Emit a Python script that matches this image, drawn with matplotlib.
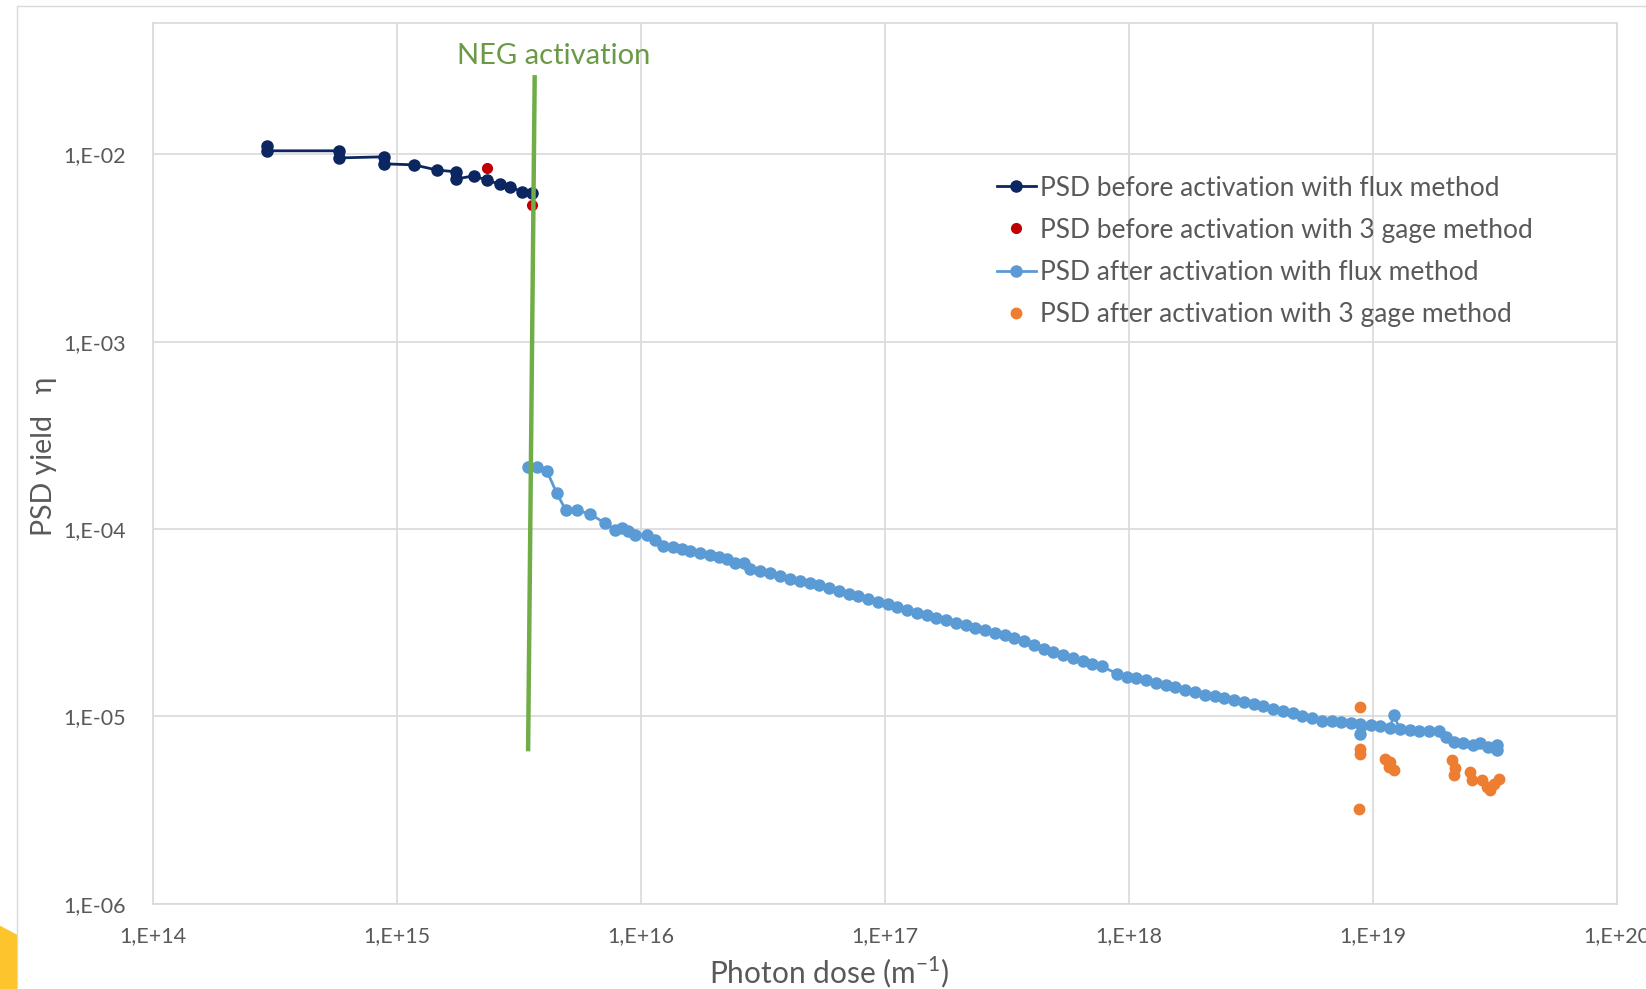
import numpy as np
import matplotlib.pyplot as plt
import matplotlib.patches as patches
from matplotlib.ticker import FixedLocator, FuncFormatter

plt.rcParams['font.family'] = ['Lato', 'DejaVu Sans']
plt.rcParams['mathtext.fontset'] = 'custom'
plt.rcParams['mathtext.rm'] = 'Lato'

# PSD before activation, flux method
dose_before = [2.93e14, 2.93e14, 5.8e14, 5.8e14, 8.8e14, 8.8e14, 1.17e15, 1.46e15,
               1.75e15, 1.75e15, 2.06e15, 2.33e15, 2.63e15, 2.9e15, 3.24e15, 3.56e15]
eta_before = [0.01107, 0.01042, 0.01042, 0.00955, 0.00968, 0.00888, 0.00877, 0.00822,
              0.00805, 0.00738, 0.00766, 0.00726, 0.00692, 0.00670, 0.00632, 0.00617]

# PSD before activation, 3 gage method
dose_before_3g = [2.33e15, 3.56e15]
eta_before_3g = [0.0084, 0.00536]

# PSD after activation, flux method
dose_after = [3.45e15, 3.73e15, 4.10e15, 4.51e15, 4.92e15, 5.44e15, 6.17e15, 7.11e15,
              7.81e15, 8.32e15, 8.87e15, 9.45e15, 1.055e16, 1.14e16, 1.233e16, 1.356e16,
              1.468e16, 1.585e16, 1.745e16, 1.92e16, 2.075e16, 2.245e16, 2.43e16, 2.63e16,
              2.80e16, 3.07e16, 3.38e16, 3.71e16, 4.08e16, 4.467e16, 4.898e16, 5.37e16,
              5.89e16, 6.46e16, 7.08e16, 7.76e16, 8.51e16, 9.33e16, 1.023e17, 1.122e17,
              1.230e17, 1.349e17, 1.479e17, 1.622e17, 1.778e17, 1.950e17, 2.138e17, 2.344e17,
              2.570e17, 2.818e17, 3.090e17, 3.388e17, 3.715e17, 4.074e17, 4.467e17, 4.898e17,
              5.370e17, 5.888e17, 6.457e17, 7.079e17, 7.762e17, 8.913e17, 9.772e17, 1.072e18,
              1.175e18, 1.288e18, 1.413e18, 1.549e18, 1.698e18, 1.862e18, 2.042e18, 2.239e18,
              2.455e18, 2.692e18, 2.951e18, 3.236e18, 3.548e18, 3.890e18, 4.266e18, 4.677e18,
              5.129e18, 5.623e18, 6.166e18, 6.761e18, 7.413e18, 8.128e18, 8.81e18, 8.87e18,
              9.772e18, 1.072e19, 1.175e19, 1.214e19, 1.288e19, 1.413e19, 1.549e19, 1.698e19,
              1.862e19, 1.995e19, 2.138e19, 2.344e19, 2.570e19, 2.754e19, 2.951e19, 3.162e19,
              3.22e19, 3.22e19]
eta_after = [2.135e-4, 2.15e-4, 2.05e-4, 1.55e-4, 1.256e-4, 1.256e-4, 1.205e-4, 1.074e-4,
             9.91e-5, 1.015e-4, 9.82e-5, 9.35e-5, 9.24e-5, 8.69e-5, 8.17e-5, 8.0e-5,
             7.84e-5, 7.68e-5, 7.43e-5, 7.31e-5, 7.08e-5, 6.94e-5, 6.58e-5, 6.58e-5,
             6.14e-5, 5.96e-5, 5.81e-5, 5.65e-5, 5.43e-5, 5.30e-5, 5.15e-5, 5.00e-5,
             4.82e-5, 4.66e-5, 4.50e-5, 4.37e-5, 4.23e-5, 4.10e-5, 3.96e-5, 3.83e-5,
             3.69e-5, 3.56e-5, 3.46e-5, 3.36e-5, 3.26e-5, 3.16e-5, 3.07e-5, 2.98e-5,
             2.89e-5, 2.80e-5, 2.71e-5, 2.62e-5, 2.52e-5, 2.41e-5, 2.29e-5, 2.20e-5,
             2.12e-5, 2.05e-5, 1.97e-5, 1.91e-5, 1.85e-5, 1.69e-5, 1.63e-5, 1.60e-5,
             1.56e-5, 1.51e-5, 1.47e-5, 1.43e-5, 1.38e-5, 1.35e-5, 1.31e-5, 1.28e-5,
             1.25e-5, 1.22e-5, 1.19e-5, 1.17e-5, 1.135e-5, 1.10e-5, 1.07e-5, 1.04e-5,
             1.007e-5, 9.77e-6, 9.51e-6, 9.42e-6, 9.33e-6, 9.25e-6, 9.12e-6, 8.1e-6,
             9.0e-6, 8.85e-6, 8.73e-6, 1.014e-5, 8.61e-6, 8.49e-6, 8.38e-6, 8.39e-6,
             8.32e-6, 7.76e-6, 7.31e-6, 7.19e-6, 7.08e-6, 7.24e-6, 6.87e-6, 6.76e-6,
             7.08e-6, 6.6e-6]

# PSD after activation, 3 gage method
dose_after_3g = [8.85e18, 8.81e18, 8.81e18, 8.73e18, 1.122e19, 1.178e19, 1.214e19, 1.158e19,
                 2.10e19, 2.17e19, 2.14e19, 2.50e19, 2.54e19, 2.80e19, 2.93e19, 3.12e19,
                 3.27e19, 3.02e19]
eta_after_3g = [1.122e-5, 6.73e-6, 6.28e-6, 3.22e-6, 5.96e-6, 5.72e-6, 5.16e-6, 5.37e-6,
                5.83e-6, 5.33e-6, 4.85e-6, 5.06e-6, 4.56e-6, 4.56e-6, 4.21e-6, 4.38e-6,
                4.66e-6, 4.04e-6]

# NEG activation marker line (drawn shape, slightly tilted)
neg_dose = [3.66e15, 3.44e15]
neg_eta = [2.57e-2, 6.7e-6]

fig = plt.figure(figsize=(16.46, 9.89), dpi=100)
ax = fig.add_axes([0.0931, 0.0860, 0.8893, 0.8906])

ax.plot(dose_before, eta_before, '-o', color='#0B2660', lw=2, ms=8,
        label='PSD before activation with flux method', zorder=3)
ax.plot(dose_before_3g, eta_before_3g, 'o', color='#C00000', ms=7,
        label='PSD before activation with 3 gage method', zorder=4)
ax.plot(dose_after, eta_after, '-o', color='#5B9BD5', lw=2, ms=8,
        label='PSD after activation with flux method', zorder=3)
ax.plot(dose_after_3g, eta_after_3g, 'o', color='#ED7D31', ms=7.5,
        label='PSD after activation with 3 gage method', zorder=4)
ax.plot(neg_dose, neg_eta, '-', color='#70AD47', lw=3.2, zorder=5)
ax.text(4.4e15, 3.36e-2, 'NEG activation', color='#6A9A45', fontsize=21,
        ha='center', va='center')

ax.set_xscale('log')
ax.set_yscale('log')
ax.set_xlim(1e14, 1e20)
ax.set_ylim(1e-6, 0.05)

ax.xaxis.set_major_locator(FixedLocator([10.0**k for k in range(14, 21)]))
ax.yaxis.set_major_locator(FixedLocator([10.0**k for k in range(-6, -1)]))
ax.xaxis.set_minor_locator(FixedLocator([]))
ax.yaxis.set_minor_locator(FixedLocator([]))
fmt = FuncFormatter(lambda v, p: '1,E{:+03d}'.format(int(round(np.log10(v)))))
ax.xaxis.set_major_formatter(fmt)
ax.yaxis.set_major_formatter(fmt)
ax.tick_params(length=0, labelsize=15.5, labelcolor='#595959')
ax.tick_params(axis='x', pad=16)
ax.tick_params(axis='y', pad=20)
ax.grid(True, color='#D9D9D9', lw=1.2)
for s in ax.spines.values():
    s.set_color('#D9D9D9')
    s.set_linewidth(1.2)

ax.set_xlabel('Photon dose (m$^{\\mathregular{-1}}$)', fontsize=21.5, color='#595959')
ax.xaxis.set_label_coords(0.462, -0.058)
ax.set_ylabel('PSD yield   η', fontsize=20.5, color='#595959')
ax.yaxis.set_label_coords(-0.066, 0.508)

ax.legend(loc='upper left', bbox_to_anchor=(0.569, 0.839), frameon=False, fontsize=19,
          handlelength=1.5, handletextpad=0.15, labelspacing=0.65, labelcolor='#595959',
          borderaxespad=0)

# chart frame and a bit of the slide decoration at bottom left
fig.patches.append(patches.Rectangle((0.0103, -0.1), 1.2, 0.9939 + 0.1, transform=fig.transFigure,
                                     fill=False, edgecolor='#D9D9D9', lw=1))
fig.patches.append(patches.Polygon([(0, 0.064), (0.0103, 0.055), (0.0103, 0), (0, 0)],
                                   closed=True, transform=fig.transFigure,
                                   facecolor='#FDC52C', edgecolor='none'))

fig.savefig('out.png', dpi=100)
